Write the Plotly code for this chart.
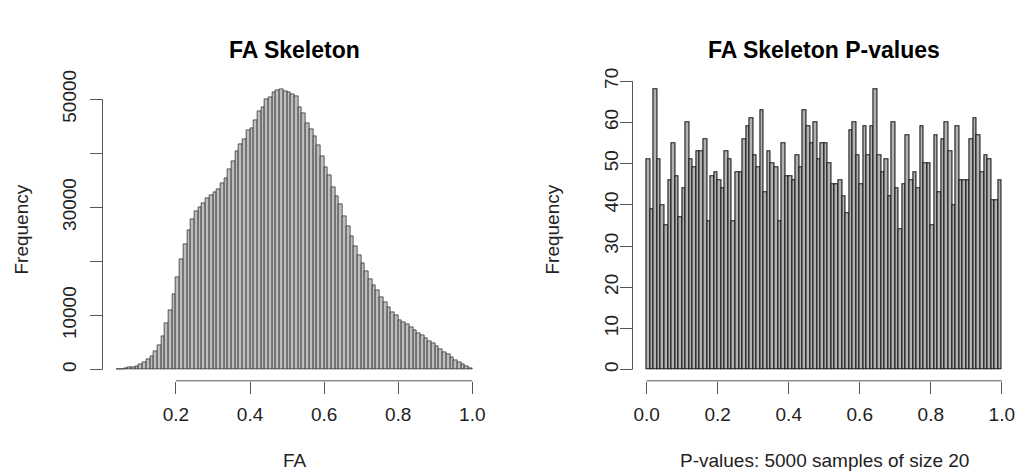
import numpy as np
import plotly.graph_objects as go

# ---------------- data ----------------
fa_bin_width = 0.01
fa_first_edge = 0.04
fa_counts = [80, 150, 250, 350, 500, 700, 1000, 1400, 1900, 2500,
             3400, 4500, 6200, 8500, 10900, 13900, 17100, 20400, 23100, 25800,
             27800, 29300, 30100, 30700, 31600, 32200, 32800, 33400, 34400, 35400,
             37100, 38500, 40300, 41700, 42600, 44200, 44700, 46100, 47700, 48500,
             49900, 50300, 51200, 51600, 51800, 51500, 51200, 51000, 50600, 48600,
             47400, 45600, 44400, 43200, 41400, 39400, 37400, 35900, 33800, 32100,
             30500, 28400, 26600, 24600, 22900, 21100, 19600, 18100, 16800, 15600,
             14600, 13400, 12500, 11500, 10700, 10100, 9200, 8800, 8300, 7800,
             7300, 6800, 6300, 5800, 5300, 4800, 4300, 3800, 3300, 2800,
             2300, 1800, 1350, 950, 550, 250]

pv_bin_width = 0.01
pv_first_edge = 0.0
pv_counts = [51, 39, 68, 51, 40, 35, 46, 55, 47, 37,
             44, 60, 51, 49, 53, 53, 56, 36, 47, 48,
             46, 44, 53, 51, 36, 48, 48, 56, 59, 61,
             52, 49, 63, 43, 53, 50, 49, 36, 55, 47,
             47, 46, 52, 49, 63, 59, 55, 60, 51, 55,
             55, 50, 45, 45, 46, 42, 38, 58, 60, 52,
             45, 59, 52, 59, 68, 52, 48, 51, 42, 60,
             44, 34, 45, 57, 46, 48, 44, 59, 50, 50,
             35, 57, 43, 56, 60, 53, 40, 59, 46, 46,
             46, 56, 61, 57, 48, 52, 51, 41, 41, 46]

fa_xticks = [0.2, 0.4, 0.6, 0.8, 1.0]
fa_yticks = [0, 10000, 20000, 30000, 40000, 50000]
fa_ytick_text = ["0", "10000", "", "30000", "", "50000"]
pv_xticks = [0.0, 0.2, 0.4, 0.6, 0.8, 1.0]
pv_yticks = [0, 10, 20, 30, 40, 50, 60, 70]

titles = ["FA Skeleton", "FA Skeleton P-values"]
xlabels = ["FA", "P-values: 5000 samples of size 20"]
ylabel = "Frequency"

# ---------------- derived ----------------
fa_centers = fa_first_edge + fa_bin_width * (np.arange(len(fa_counts)) + 0.5)
pv_centers = pv_first_edge + pv_bin_width * (np.arange(len(pv_counts)) + 0.5)
fa_lo, fa_hi = fa_first_edge, fa_first_edge + fa_bin_width * len(fa_counts)
pv_lo, pv_hi = pv_first_edge, pv_first_edge + pv_bin_width * len(pv_counts)


def r_range(lo, hi):
    d = (hi - lo) * 0.04
    return [lo - d, hi + d]


W, H = 1016, 475
FONT = "Liberation Sans, Arial, Helvetica, sans-serif"
AX = "#555555"
TXT = "#222222"

fig = go.Figure()
fig.add_trace(go.Bar(x=fa_centers, y=fa_counts, width=fa_bin_width,
                     marker=dict(color="#bebebe", line=dict(color="#1e1e1e", width=0.7)),
                     xaxis="x", yaxis="y", showlegend=False))
fig.add_trace(go.Bar(x=pv_centers, y=pv_counts, width=pv_bin_width,
                     marker=dict(color="#b2b2b2", line=dict(color="#1a1a1a", width=1.1)),
                     xaxis="x2", yaxis="y2", showlegend=False))

ydom = [1 - 378.8 / H, 1 - 69.7 / H]
xdom1 = [102.5 / W, 486.5 / W]
xdom2 = [632.5 / W, 1.0]

common_x = dict(showgrid=False, zeroline=False, showline=False, ticks="outside",
                ticklen=12, tickwidth=1, tickcolor=AX,
                tickfont=dict(family=FONT, size=19, color=TXT), ticklabelstandoff=4)
common_y = dict(showgrid=False, zeroline=False, showline=False, ticks="outside",
                ticklen=12, tickwidth=1, tickcolor=AX, tickangle=-90,
                tickfont=dict(family=FONT, size=19, color=TXT))

fig.update_layout(
    width=W, height=H, autosize=False,
    margin=dict(l=0, r=0, t=0, b=0, pad=0),
    paper_bgcolor="white", plot_bgcolor="white",
    bargap=0,
    xaxis=dict(domain=xdom1, range=r_range(fa_lo, fa_hi), anchor="y",
               tickvals=fa_xticks, ticktext=[f"{v:.1f}" for v in fa_xticks], **common_x),
    yaxis=dict(domain=ydom, range=r_range(0, max(fa_counts)), anchor="x",
               tickvals=fa_yticks, ticktext=fa_ytick_text, ticklabelstandoff=6, **common_y),
    xaxis2=dict(domain=xdom2, range=r_range(pv_lo, pv_hi), anchor="y2",
                tickvals=pv_xticks, ticktext=[f"{v:.1f}" for v in pv_xticks], **common_x),
    yaxis2=dict(domain=ydom, range=r_range(0, max(pv_counts)), anchor="x2",
                tickvals=pv_yticks, ticktext=[str(v) for v in pv_yticks],
                ticklabelstandoff=-6, **common_y),
)

# R-style axis lines spanning only the tick range
for xr, yr, xt, yt in [("x", "y", fa_xticks, fa_yticks), ("x2", "y2", pv_xticks, pv_yticks)]:
    fig.add_shape(type="line", xref=xr, yref=f"{yr} domain", x0=xt[0], x1=xt[-1], y0=0, y1=0,
                  line=dict(color=AX, width=1))
    fig.add_shape(type="line", xref=f"{xr} domain", yref=yr, x0=0, x1=0, y0=yt[0], y1=yt[-1],
                  line=dict(color=AX, width=1))

# titles and axis labels
centers_x = [(xdom1[0] + xdom1[1]) / 2, (xdom2[0] + xdom2[1]) / 2]
ylab_x = [22 / W, 553 / W]
for i in range(2):
    fig.add_annotation(text=f"<b>{titles[i]}</b>", xref="paper", yref="paper",
                       x=centers_x[i], y=1 - 41 / H, showarrow=False,
                       xanchor="center", yanchor="middle",
                       font=dict(family=FONT, size=23, color="black"))
    fig.add_annotation(text=xlabels[i], xref="paper", yref="paper",
                       x=centers_x[i], y=1 - 460 / H, showarrow=False,
                       xanchor="center", yanchor="middle",
                       font=dict(family=FONT, size=19, color=TXT))
    fig.add_annotation(text=ylabel, xref="paper", yref="paper",
                       x=ylab_x[i], y=(ydom[0] + ydom[1]) / 2, showarrow=False,
                       textangle=-90, xanchor="center", yanchor="middle",
                       font=dict(family=FONT, size=19, color=TXT))

fig.write_html("out.html", config={"responsive": False, "displayModeBar": False},
               post_script="document.body.style.margin='0';document.body.style.overflow='hidden';")
